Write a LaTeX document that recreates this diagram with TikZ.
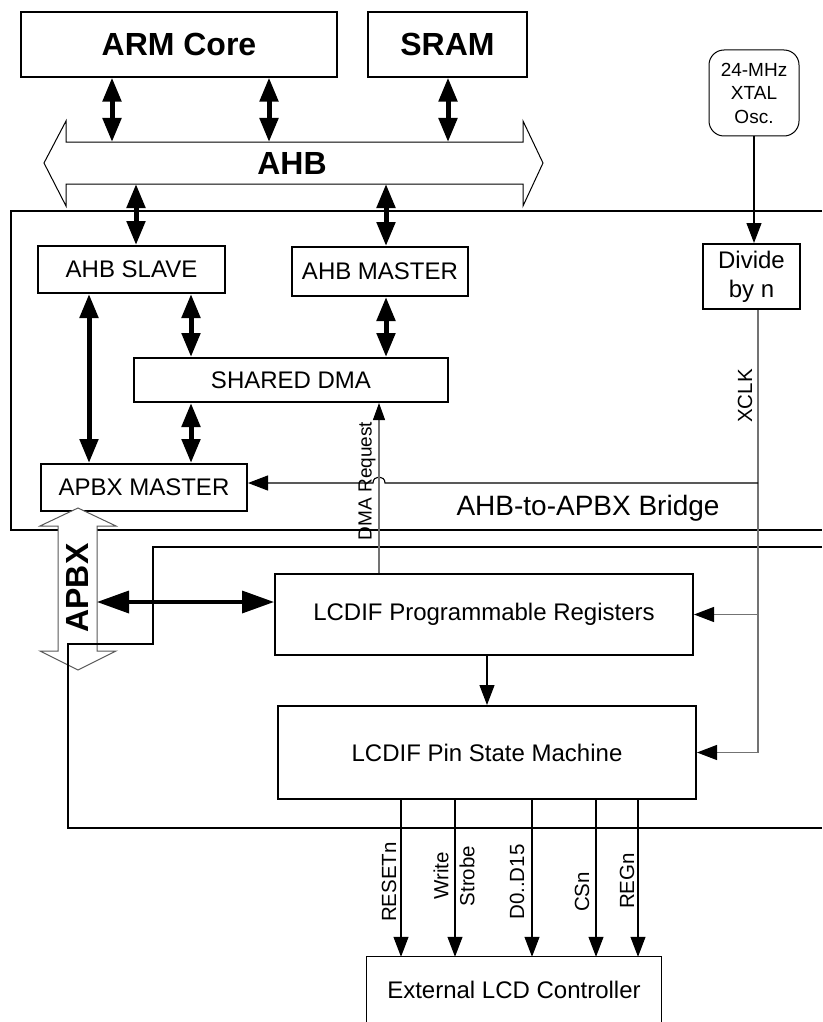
\documentclass[tikz,border=0pt]{standalone}
\usepackage{fontspec}
\setmainfont{Liberation Sans}
\usetikzlibrary{arrows.meta}
\begin{document}
\begin{tikzpicture}[x=1pt,y=-1pt,
  box/.style={draw, line width=1.2pt, inner sep=0pt, font=\fontsize{24}{29}\selectfont, align=center},
  tbox/.style={box, line width=2pt},
  bigbold/.style={font=\bfseries\fontsize{32}{36}\selectfont},
  bus/.style={line width=5pt, {Triangle[length=24pt,width=18pt]}-{Triangle[length=24pt,width=18pt]}},
  fatbus/.style={line width=3.5pt, {Triangle[length=32pt,width=22pt]}-{Triangle[length=32pt,width=22pt]}},
  sig/.style={line width=1.1pt, -{Triangle[length=20pt,width=15pt]}},
  gsig/.style={line width=1.1pt, draw=black!55, -{Triangle[length=20pt,width=15pt,color=black]}},
  gline/.style={line width=1.1pt, draw=black!55},
  frame/.style={line width=1.3pt},
  lbl/.style={font=\fontsize{20.5}{26}\selectfont, rotate=90, inner sep=0pt, align=center}
]
\useasboundingbox (0,0) rectangle (822,1022);
\fill[white] (0,0) rectangle (822,1022);

% bridge frame
\draw[frame] (822,211) -- (11,211) -- (11,530) -- (822,530);

% top blocks
\node[box, bigbold, minimum width=316pt, minimum height=65pt] (arm) at (179,44.5) {ARM Core};
\node[box, bigbold, minimum width=159pt, minimum height=65pt] (sram) at (447.5,44.5) {SRAM};
\node[box, line width=1pt, rounded corners=15pt, minimum width=90pt, minimum height=86pt,
      font=\fontsize{19}{23.5}\selectfont] (xtal) at (754,93) {24-MHz\\XTAL\\Osc.};

% AHB bus
\draw[line width=1pt, fill=white] (66,142) -- (523,142) -- (523,121) -- (543,163) -- (523,206)
  -- (523,184) -- (66,184) -- (66,206) -- (44,163) -- (66,121) -- cycle;
\node[bigbold] (ahb) at (292,163) {AHB};
\coordinate (bustop) at (0,142);
\coordinate (busbot) at (0,184);

% bridge blocks
\node[tbox, minimum width=187pt, minimum height=47pt] (slave) at (131.5,269.5) {AHB SLAVE};
\node[tbox, minimum width=176pt, minimum height=49pt] (master) at (380,271.5) {AHB MASTER};
\node[tbox, minimum width=314pt, minimum height=44pt] (dma) at (291,380) {SHARED DMA};
\node[tbox, minimum width=206pt, minimum height=47pt] (apbxm) at (144,487.5) {APBX MASTER};
\node[tbox, minimum width=97pt, minimum height=65pt] (div) at (751.5,276.5) {Divide\\by n};
\node[font=\fontsize{28}{32}\selectfont] (brl) at (588,508) {AHB-to-APBX Bridge};

% bus arrows
\coordinate (a1) at (112,0);
\coordinate (a2) at (269,0);
\coordinate (a3) at (448,0);
\coordinate (a4) at (136,0);
\coordinate (a5) at (386,0);
\coordinate (a6) at (89,0);
\coordinate (a7) at (191,0);
\draw[bus] (a1 |- arm.south) -- (a1 |- bustop);
\draw[bus] (a2 |- arm.south) -- (a2 |- bustop);
\draw[bus] (a3 |- sram.south) -- (a3 |- bustop);
\draw[bus] (a4 |- busbot) -- (a4 |- slave.north);
\draw[bus] (a5 |- busbot) -- (a5 |- master.north);
\draw[bus] (a6 |- slave.south) -- (a6 |- apbxm.north);
\draw[bus] (a7 |- slave.south) -- (a7 |- dma.north);
\draw[bus] (a5 |- master.south) -- (a5 |- dma.north);
\draw[bus] (a7 |- dma.south) -- (a7 |- apbxm.north);

% APBX bus
\draw[line width=1pt, draw=black!65, fill=white] (58,526) -- (40,526) -- (78,508) -- (116,526) -- (97,526)
  -- (97,651) -- (116,651) -- (78,670) -- (40,651) -- (58,651) -- cycle;
\node[bigbold, rotate=90] (apbx) at (77,588) {APBX};

% LCDIF blocks
\node[tbox, minimum width=418pt, minimum height=81pt] (pr) at (484,614.5) {LCDIF Programmable Registers};
\node[tbox, minimum width=418pt, minimum height=93pt] (psm) at (487,752.5) {LCDIF Pin State Machine};
\coordinate (apbxr) at (97,602);
\draw[fatbus] (apbxr) -- (apbxr -| pr.west);

% LCDIF frame
\draw[frame] (822,547) -- (153,547) -- (153,644) -- (68,644) -- (68,828) -- (822,828);

\draw[sig] (psm.north |- pr.south) -- (psm.north);

% clock
\draw[sig] (xtal.south) -- (xtal.south |- div.north);
\coordinate (xc) at (758,0);
\draw[gline] (xc |- div.south) -- (xc |- psm.east);
\draw[gsig] (xc |- pr.east) -- (pr.east);
\draw[gsig] (xc |- psm.east) -- (psm.east);
\coordinate (hb) at (758,483);
\draw[sig] (hb) -- (385,483) .. controls (385,475) and (373,475) .. (373,483) -- (hb -| apbxm.east);
\node[lbl] (xl) at (745,396) {XCLK};

% DMA request
\coordinate (dr) at (379,0);
\draw[line width=1.1pt, draw=black!55, -{Triangle[length=17pt,width=12pt,color=black]}] (dr |- pr.north) -- (dr |- dma.south);
\node[lbl, font=\fontsize{19}{23}\selectfont] (dmal) at (367,481) {DMA Request};

% external controller
\node[minimum width=294pt, minimum height=66pt, inner sep=0pt, font=\fontsize{24}{29}\selectfont] (ext) at (514,990) {External LCD Controller};
\draw[line width=1pt] (ext.south west) -- (ext.north west) -- (ext.north east) -- (ext.south east);

\coordinate (s1) at (401,0);
\coordinate (s2) at (455,0);
\coordinate (s3) at (532,0);
\coordinate (s4) at (596,0);
\coordinate (s5) at (638,0);
\draw[sig] (s1 |- psm.south) -- (s1 |- ext.north);
\draw[sig] (s2 |- psm.south) -- (s2 |- ext.north);
\draw[sig] (s3 |- psm.south) -- (s3 |- ext.north);
\draw[sig] (s4 |- psm.south) -- (s4 |- ext.north);
\draw[sig] (s5 |- psm.south) -- (s5 |- ext.north);
\node[lbl] (l1) at (389,882) {RESETn};
\node[lbl] (l2) at (454,876) {Write\\Strobe};
\node[lbl] (l3) at (517,882) {D0..D15};
\node[lbl] (l4) at (582,892) {CSn};
\node[lbl] (l5) at (627,881) {REGn};
\end{tikzpicture}
\end{document}
